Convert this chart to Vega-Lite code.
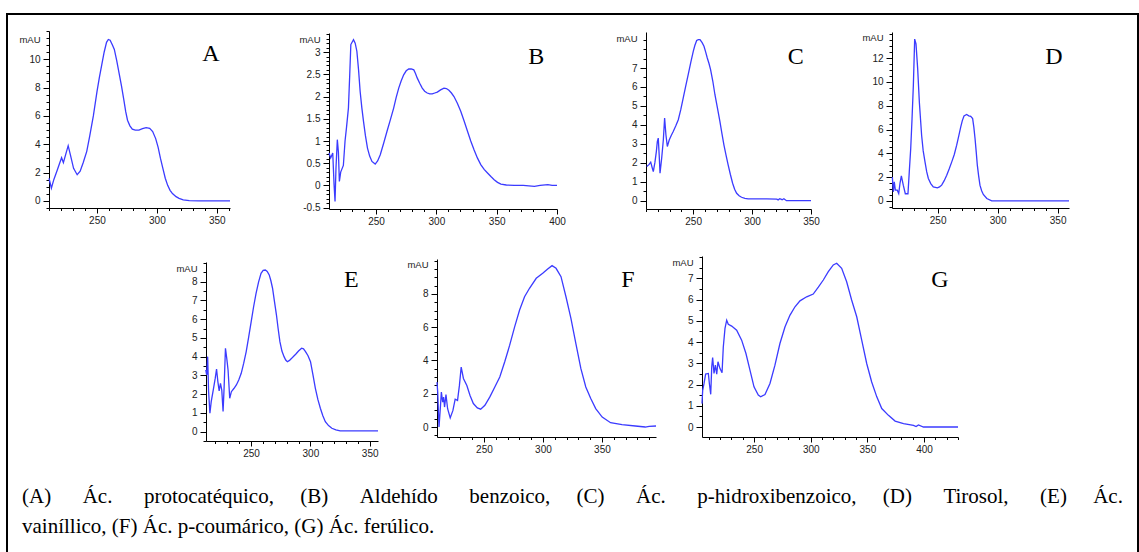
{
  "$schema": "https://vega.github.io/schema/vega-lite/v6.json",
  "width": 1131,
  "height": 540,
  "autosize": {"type": "none"},
  "padding": {"left": 7, "top": 14, "right": 1, "bottom": 0},
  "background": "white",
  "title": {
    "text": ["(A)\u00a0\u00a0\u00a0\u00a0\u00a0\u00a0Ác.\u00a0\u00a0\u00a0\u00a0\u00a0\u00a0protocatéquico,\u00a0\u00a0\u00a0\u00a0\u00a0(B)\u00a0\u00a0\u00a0\u00a0\u00a0\u00a0Aldehído\u00a0\u00a0\u00a0\u00a0\u00a0\u00a0benzoico,\u00a0\u00a0\u00a0\u00a0\u00a0(C)\u00a0\u00a0\u00a0\u00a0\u00a0\u00a0Ác.\u00a0\u00a0\u00a0\u00a0\u00a0\u00a0p-hidroxibenzoico,\u00a0\u00a0\u00a0\u00a0\u00a0(D)\u00a0\u00a0\u00a0\u00a0\u00a0\u00a0Tirosol,\u00a0\u00a0\u00a0\u00a0\u00a0\u00a0(E)\u00a0\u00a0\u00a0\u00a0\u00a0Ác.", "vainíllico, (F) Ác. p-coumárico, (G) Ác. ferúlico."],
    "orient": "bottom", "anchor": "start", "frame": "group", "offset": -68, "dx": 15,
    "font": "Liberation Serif", "fontSize": 21, "fontWeight": "normal", "color": "black", "lineHeight": 30
  },
  "datasets": {
    "A": [{"w":210,"v":1.6},{"w":212,"v":0.9},{"w":214,"v":1.5},{"w":217,"v":2.2},{"w":219,"v":2.7},{"w":220.5,"v":3.05},{"w":222,"v":2.7},{"w":224,"v":3.3},{"w":226,"v":3.9},{"w":228,"v":3.2},{"w":230.5,"v":2.3},{"w":233.5,"v":1.85},{"w":236,"v":2.1},{"w":238.5,"v":2.7},{"w":241.5,"v":3.5},{"w":244,"v":4.6},{"w":247,"v":6.0},{"w":250,"v":7.7},{"w":252,"v":8.7},{"w":254,"v":9.6},{"w":256,"v":10.5},{"w":258,"v":11.2},{"w":259.5,"v":11.4},{"w":261,"v":11.35},{"w":263,"v":11.0},{"w":264.5,"v":10.7},{"w":266.5,"v":9.9},{"w":268.5,"v":9.0},{"w":270.5,"v":8.1},{"w":272.5,"v":7.1},{"w":274,"v":6.3},{"w":275.5,"v":5.7},{"w":277.5,"v":5.3},{"w":279.5,"v":5.07},{"w":282,"v":5.0},{"w":285,"v":5.0},{"w":288,"v":5.1},{"w":291,"v":5.17},{"w":294,"v":5.12},{"w":296.5,"v":4.9},{"w":299,"v":4.4},{"w":301,"v":3.8},{"w":303,"v":3.0},{"w":305,"v":2.3},{"w":307,"v":1.6},{"w":309,"v":1.1},{"w":311,"v":0.75},{"w":313,"v":0.52},{"w":316,"v":0.3},{"w":318.5,"v":0.18},{"w":322,"v":0.08},{"w":327,"v":0.02},{"w":335,"v":0},{"w":361,"v":0}],
    "B": [{"w":211,"v":0.73},{"w":212.4,"v":0.62},{"w":214.1,"v":0.73},{"w":215.2,"v":0.02},{"w":216,"v":-0.36},{"w":216.8,"v":0.4},{"w":217.9,"v":1.03},{"w":218.8,"v":0.75},{"w":219.6,"v":0.09},{"w":220.7,"v":0.3},{"w":222.9,"v":0.45},{"w":224.3,"v":1.0},{"w":225.5,"v":1.3},{"w":227.1,"v":1.74},{"w":228.2,"v":2.5},{"w":229.1,"v":3.17},{"w":231.3,"v":3.28},{"w":232.7,"v":3.2},{"w":234.1,"v":3.02},{"w":235.5,"v":2.6},{"w":236.8,"v":2.12},{"w":238.2,"v":1.75},{"w":239.6,"v":1.44},{"w":241.2,"v":1.12},{"w":242.9,"v":0.84},{"w":244.7,"v":0.66},{"w":246.6,"v":0.54},{"w":249.3,"v":0.48},{"w":251.3,"v":0.55},{"w":253.5,"v":0.69},{"w":256.3,"v":0.95},{"w":259.1,"v":1.22},{"w":261.9,"v":1.48},{"w":264.6,"v":1.74},{"w":266.7,"v":1.98},{"w":268.8,"v":2.19},{"w":270.8,"v":2.35},{"w":272.9,"v":2.49},{"w":275,"v":2.58},{"w":277.1,"v":2.62},{"w":279.2,"v":2.62},{"w":281.3,"v":2.6},{"w":282.7,"v":2.52},{"w":284.1,"v":2.42},{"w":286.2,"v":2.3},{"w":288.3,"v":2.19},{"w":290.3,"v":2.12},{"w":292.4,"v":2.08},{"w":294.5,"v":2.06},{"w":296.6,"v":2.06},{"w":298.7,"v":2.08},{"w":300.8,"v":2.1},{"w":303.5,"v":2.15},{"w":306.3,"v":2.19},{"w":308.3,"v":2.18},{"w":310.4,"v":2.14},{"w":312.5,"v":2.08},{"w":314.6,"v":2.0},{"w":317.4,"v":1.85},{"w":320.2,"v":1.67},{"w":323,"v":1.45},{"w":325.8,"v":1.22},{"w":328.5,"v":1.0},{"w":331.3,"v":0.8},{"w":334,"v":0.62},{"w":336.8,"v":0.47},{"w":339.6,"v":0.36},{"w":342.4,"v":0.28},{"w":345.2,"v":0.2},{"w":347.9,"v":0.13},{"w":350.7,"v":0.07},{"w":353.5,"v":0.03},{"w":358,"v":0.01},{"w":364.6,"v":0.0},{"w":372,"v":0.0},{"w":381.3,"v":-0.02},{"w":386,"v":0.0},{"w":392.4,"v":0.02},{"w":396,"v":0.0},{"w":400,"v":0.0}],
    "C": [{"w":210.6,"v":1.8},{"w":212.5,"v":1.9},{"w":214,"v":2.03},{"w":215.2,"v":1.75},{"w":216.2,"v":1.53},{"w":217.6,"v":2.03},{"w":218.8,"v":2.6},{"w":219.6,"v":3.12},{"w":220.4,"v":3.3},{"w":221.2,"v":2.4},{"w":221.9,"v":1.45},{"w":223.3,"v":2.24},{"w":224.7,"v":3.2},{"w":225.8,"v":4.36},{"w":226.9,"v":3.48},{"w":228.1,"v":2.86},{"w":229.7,"v":3.2},{"w":231.5,"v":3.45},{"w":233.1,"v":3.65},{"w":235.3,"v":3.95},{"w":237.4,"v":4.27},{"w":239.5,"v":4.8},{"w":241.6,"v":5.42},{"w":243.7,"v":6.05},{"w":245.8,"v":6.65},{"w":248,"v":7.3},{"w":250.1,"v":7.88},{"w":251.5,"v":8.2},{"w":253,"v":8.45},{"w":254.4,"v":8.5},{"w":255.8,"v":8.5},{"w":257.5,"v":8.35},{"w":259.2,"v":8.15},{"w":260.6,"v":7.85},{"w":262,"v":7.53},{"w":263.4,"v":7.25},{"w":264.8,"v":6.92},{"w":266.7,"v":6.3},{"w":268.5,"v":5.59},{"w":270.6,"v":4.9},{"w":272.7,"v":4.18},{"w":274.4,"v":3.55},{"w":276.1,"v":2.95},{"w":277.9,"v":2.4},{"w":279.7,"v":1.89},{"w":281.6,"v":1.38},{"w":283.5,"v":0.92},{"w":285.2,"v":0.6},{"w":286.9,"v":0.39},{"w":289,"v":0.26},{"w":291.1,"v":0.18},{"w":293.9,"v":0.12},{"w":296.7,"v":0.09},{"w":312.3,"v":0.09},{"w":321,"v":0.08},{"w":322.1,"v":0.04},{"w":323.5,"v":0.1},{"w":325.5,"v":0.05},{"w":327,"v":0.1},{"w":329.2,"v":0.0},{"w":350,"v":0.0}],
    "D": [{"w":212.3,"v":2.0},{"w":213.1,"v":0.76},{"w":213.9,"v":1.6},{"w":214.8,"v":0.9},{"w":216.4,"v":0.9},{"w":217.6,"v":0.62},{"w":218.7,"v":1.5},{"w":219.8,"v":2.1},{"w":221.4,"v":1.32},{"w":223.1,"v":0.6},{"w":225.3,"v":0.6},{"w":226.4,"v":2.44},{"w":227.6,"v":4.4},{"w":228.7,"v":6.9},{"w":229.8,"v":9.72},{"w":230.9,"v":13.6},{"w":232,"v":13.2},{"w":233.4,"v":11.1},{"w":234.8,"v":8.3},{"w":236.7,"v":5.5},{"w":238,"v":4.2},{"w":239.5,"v":3.28},{"w":240.9,"v":2.45},{"w":242.3,"v":1.88},{"w":244.3,"v":1.45},{"w":246.4,"v":1.18},{"w":249.8,"v":1.09},{"w":251.6,"v":1.18},{"w":253.4,"v":1.32},{"w":255.5,"v":1.7},{"w":257.6,"v":2.16},{"w":259.7,"v":2.7},{"w":261.8,"v":3.28},{"w":263.9,"v":3.9},{"w":265.9,"v":4.68},{"w":267.6,"v":5.45},{"w":269.3,"v":6.22},{"w":270.6,"v":6.75},{"w":272,"v":7.14},{"w":274.2,"v":7.26},{"w":276,"v":7.15},{"w":277.6,"v":7.1},{"w":279.2,"v":6.92},{"w":280.2,"v":6.2},{"w":281.2,"v":5.24},{"w":282.2,"v":4.1},{"w":283.1,"v":3.0},{"w":284.2,"v":2.1},{"w":285.3,"v":1.32},{"w":286.7,"v":0.85},{"w":288.1,"v":0.54},{"w":291,"v":0.2},{"w":295.1,"v":0.0},{"w":359.5,"v":0.0}],
    "E": [{"w":211.8,"v":3.29},{"w":212.6,"v":3.02},{"w":213.4,"v":4.0},{"w":214.2,"v":2.13},{"w":215.3,"v":0.98},{"w":216.4,"v":1.6},{"w":218.1,"v":2.22},{"w":219.8,"v":2.85},{"w":220.9,"v":3.34},{"w":222,"v":2.67},{"w":223.1,"v":2.17},{"w":224.2,"v":2.58},{"w":225.3,"v":2.22},{"w":226.4,"v":1.07},{"w":227.3,"v":2.4},{"w":228.4,"v":4.45},{"w":229.5,"v":3.91},{"w":230.6,"v":3.29},{"w":232,"v":1.78},{"w":233.4,"v":2.13},{"w":235.5,"v":2.3},{"w":237.6,"v":2.49},{"w":239.6,"v":2.75},{"w":241.7,"v":3.11},{"w":243.8,"v":3.65},{"w":245.9,"v":4.27},{"w":248,"v":5.05},{"w":250.1,"v":5.87},{"w":252.1,"v":6.65},{"w":254.2,"v":7.38},{"w":256.3,"v":7.98},{"w":258.4,"v":8.45},{"w":260.2,"v":8.6},{"w":262,"v":8.62},{"w":263.6,"v":8.55},{"w":265.3,"v":8.36},{"w":266.7,"v":8.05},{"w":268.1,"v":7.65},{"w":269.7,"v":6.95},{"w":271.4,"v":6.22},{"w":272.8,"v":5.5},{"w":274.3,"v":4.8},{"w":276,"v":4.3},{"w":277.8,"v":4.0},{"w":279.2,"v":3.82},{"w":280.6,"v":3.73},{"w":282.4,"v":3.8},{"w":284.2,"v":3.91},{"w":285.9,"v":4.02},{"w":287.6,"v":4.13},{"w":290,"v":4.3},{"w":292.6,"v":4.45},{"w":294.2,"v":4.42},{"w":295.9,"v":4.27},{"w":298,"v":4.05},{"w":300.1,"v":3.73},{"w":302.1,"v":3.05},{"w":304.2,"v":2.31},{"w":306.3,"v":1.72},{"w":308.4,"v":1.25},{"w":310.5,"v":0.85},{"w":312.6,"v":0.53},{"w":315.3,"v":0.32},{"w":318.1,"v":0.18},{"w":321.5,"v":0.09},{"w":325.1,"v":0.04},{"w":357,"v":0.04}],
    "F": [{"w":210.2,"v":2.7},{"w":210.8,"v":2.1},{"w":211.9,"v":0.0},{"w":212.8,"v":0.9},{"w":213.9,"v":2.1},{"w":215,"v":1.5},{"w":215.8,"v":1.8},{"w":216.6,"v":1.2},{"w":217.8,"v":1.95},{"w":219.2,"v":1.1},{"w":221.4,"v":0.55},{"w":223.7,"v":1.0},{"w":225.6,"v":1.67},{"w":227.6,"v":1.6},{"w":229.2,"v":2.5},{"w":230.7,"v":3.6},{"w":232.6,"v":2.92},{"w":235.5,"v":2.5},{"w":238.2,"v":1.9},{"w":241,"v":1.41},{"w":244.4,"v":1.15},{"w":247.2,"v":1.07},{"w":250.8,"v":1.31},{"w":255,"v":1.81},{"w":259.2,"v":2.41},{"w":263.4,"v":3.01},{"w":267.6,"v":3.92},{"w":271.8,"v":4.92},{"w":276,"v":6.02},{"w":280.2,"v":7.03},{"w":284.4,"v":7.83},{"w":288.6,"v":8.34},{"w":294.3,"v":8.94},{"w":299.8,"v":9.24},{"w":304,"v":9.5},{"w":307.7,"v":9.7},{"w":311.1,"v":9.54},{"w":315.3,"v":9.04},{"w":319.5,"v":7.83},{"w":323.7,"v":6.53},{"w":327.9,"v":5.02},{"w":332.1,"v":3.52},{"w":336.3,"v":2.41},{"w":340.5,"v":1.71},{"w":344.7,"v":1.11},{"w":350.2,"v":0.6},{"w":357.3,"v":0.26},{"w":367,"v":0.14},{"w":378.3,"v":0.06},{"w":386.7,"v":0.0},{"w":390,"v":0.04},{"w":395.8,"v":0.06}],
    "G": [{"w":204,"v":1.1},{"w":204.6,"v":1.73},{"w":205.8,"v":2.05},{"w":207.2,"v":2.49},{"w":209.6,"v":2.52},{"w":210.5,"v":2.05},{"w":211.7,"v":1.54},{"w":212.6,"v":2.83},{"w":213.4,"v":3.27},{"w":214.6,"v":2.52},{"w":215.8,"v":2.91},{"w":217,"v":2.49},{"w":218.1,"v":3.07},{"w":219.9,"v":2.75},{"w":221.7,"v":2.55},{"w":222.8,"v":3.77},{"w":224.3,"v":4.64},{"w":225.8,"v":5.03},{"w":227.2,"v":4.84},{"w":230.2,"v":4.75},{"w":234.6,"v":4.56},{"w":239,"v":4.09},{"w":242.8,"v":3.46},{"w":246.4,"v":2.67},{"w":249.9,"v":1.89},{"w":253.7,"v":1.5},{"w":255.8,"v":1.42},{"w":259.6,"v":1.53},{"w":264,"v":2.05},{"w":268.4,"v":2.91},{"w":272.8,"v":3.93},{"w":277.3,"v":4.72},{"w":281.7,"v":5.27},{"w":286.1,"v":5.66},{"w":290.5,"v":5.94},{"w":296.4,"v":6.13},{"w":302.2,"v":6.26},{"w":306.7,"v":6.58},{"w":311.1,"v":6.92},{"w":315.5,"v":7.31},{"w":319.9,"v":7.63},{"w":322.9,"v":7.71},{"w":327.3,"v":7.47},{"w":331.7,"v":6.84},{"w":336.1,"v":5.98},{"w":340.6,"v":5.19},{"w":345,"v":4.09},{"w":349.4,"v":2.99},{"w":353.8,"v":2.12},{"w":358.3,"v":1.42},{"w":362.7,"v":0.87},{"w":368.6,"v":0.55},{"w":374.5,"v":0.28},{"w":381.9,"v":0.16},{"w":390.7,"v":0.08},{"w":393,"v":0.02},{"w":395.1,"v":0.1},{"w":399.5,"v":0.0},{"w":430,"v":0.0}]
  },
  "layer": [
    {"layer": [
      {"data": {"name": "A"}, "mark": {"type": "line", "color": "#3b3bff", "strokeWidth": 1.3},
       "encoding": {
        "x": {"field": "w", "type": "quantitative", "scale": {"domain": [210, 361], "range": [42, 223], "nice": false, "zero": false},
          "axis": {"orient": "bottom", "offset": -346, "title": null, "tickCount": 500, "labelOverlap": false, "labelFlush": false, "values": [210,220,230,240,250,260,270,280,290,300,310,320,330,340,350,360], "labelExpr": "datum.value % 50 === 0 ? '' + datum.value : ''", "tickSize": {"condition": {"test": "datum.value % 50 === 0", "value": 5}, "value": 2.5}}},
        "y": {"field": "v", "type": "quantitative", "scale": {"domain": [-0.5, 12], "range": [194, 17], "nice": false, "zero": false},
          "axis": {"orient": "left", "offset": -42, "title": "mAU", "titleX": -9, "titleY": 25.5, "tickCount": 500, "labelOverlap": false, "labelFlush": false, "values": [-0.5,0,0.5,1,1.5,2,2.5,3,3.5,4,4.5,5,5.5,6,6.5,7,7.5,8,8.5,9,9.5,10,10.5,11,11.5,12], "labelExpr": "datum.value % 2 === 0 && datum.value <= 10 ? '' + datum.value : ''", "tickSize": {"condition": {"test": "datum.value % 2 === 0 && datum.value <= 10", "value": 6}, "value": 3}}}
       }},
      {"data": {"values": [{"t": "A"}]}, "mark": {"type": "text", "font": "Liberation Serif", "fontSize": 24, "align": "center", "baseline": "middle", "color": "black"},
       "encoding": {"x": {"datum": 345, "type": "quantitative"}, "y": {"datum": 10.4, "type": "quantitative"}, "text": {"field": "t"}}}
    ]},
    {"layer": [
      {"data": {"name": "B"}, "mark": {"type": "line", "color": "#3b3bff", "strokeWidth": 1.3},
       "encoding": {
        "x": {"field": "w", "type": "quantitative", "scale": {"domain": [211, 400], "range": [322, 550], "nice": false, "zero": false},
          "axis": {"orient": "bottom", "offset": -345, "title": null, "tickCount": 500, "labelOverlap": false, "labelFlush": false, "values": [220,230,240,250,260,270,280,290,300,310,320,330,340,350,360,370,380,390,400], "labelExpr": "datum.value % 50 === 0 ? '' + datum.value : ''", "tickSize": {"condition": {"test": "datum.value % 50 === 0", "value": 5}, "value": 2.5}}},
        "y": {"field": "v", "type": "quantitative", "scale": {"domain": [-0.53, 3.43], "range": [195, 19], "nice": false, "zero": false},
          "axis": {"orient": "left", "offset": -322, "title": "mAU", "titleX": -9, "titleY": 25, "tickCount": 500, "labelOverlap": false, "labelFlush": false, "values": [-0.5,-0.4,-0.3,-0.2,-0.1,0,0.1,0.2,0.3,0.4,0.5,0.6,0.7,0.8,0.9,1,1.1,1.2,1.3,1.4,1.5,1.6,1.7,1.8,1.9,2,2.1,2.2,2.3,2.4,2.5,2.6,2.7,2.8,2.9,3,3.1,3.2,3.3,3.4], "labelExpr": "abs(datum.value * 2 - round(datum.value * 2)) < 0.001 && datum.value <= 3 ? '' + datum.value : ''", "tickSize": {"condition": {"test": "abs(datum.value * 2 - round(datum.value * 2)) < 0.001 && datum.value <= 3", "value": 6}, "value": 3}}}
       }},
      {"data": {"values": [{"t": "B"}]}, "mark": {"type": "text", "font": "Liberation Serif", "fontSize": 24, "align": "center", "baseline": "middle", "color": "black"},
       "encoding": {"x": {"datum": 382.7, "type": "quantitative"}, "y": {"datum": 2.9, "type": "quantitative"}, "text": {"field": "t"}}}
    ]},
    {"layer": [
      {"data": {"name": "C"}, "mark": {"type": "line", "color": "#3b3bff", "strokeWidth": 1.3},
       "encoding": {
        "x": {"field": "w", "type": "quantitative", "scale": {"domain": [210, 350], "range": [639, 804], "nice": false, "zero": false},
          "axis": {"orient": "bottom", "offset": -345, "title": null, "tickCount": 500, "labelOverlap": false, "labelFlush": false, "values": [210,220,230,240,250,260,270,280,290,300,310,320,330,340,350], "labelExpr": "datum.value % 50 === 0 ? '' + datum.value : ''", "tickSize": {"condition": {"test": "datum.value % 50 === 0", "value": 5}, "value": 2.5}}},
        "y": {"field": "v", "type": "quantitative", "scale": {"domain": [-0.44, 8.9], "range": [195, 18], "nice": false, "zero": false},
          "axis": {"orient": "left", "offset": -639, "title": "mAU", "titleX": -9, "titleY": 24.3, "tickCount": 500, "labelOverlap": false, "labelFlush": false, "values": [0,0.5,1,1.5,2,2.5,3,3.5,4,4.5,5,5.5,6,6.5,7,7.5,8,8.5], "labelExpr": "datum.value % 1 === 0 && datum.value <= 7 ? '' + datum.value : ''", "tickSize": {"condition": {"test": "datum.value % 1 === 0 && datum.value <= 7", "value": 6}, "value": 3}}}
       }},
      {"data": {"values": [{"t": "C"}]}, "mark": {"type": "text", "font": "Liberation Serif", "fontSize": 24, "align": "center", "baseline": "middle", "color": "black"},
       "encoding": {"x": {"datum": 337, "type": "quantitative"}, "y": {"datum": 7.6, "type": "quantitative"}, "text": {"field": "t"}}}
    ]},
    {"layer": [
      {"data": {"name": "D"}, "mark": {"type": "line", "color": "#3b3bff", "strokeWidth": 1.3},
       "encoding": {
        "x": {"field": "w", "type": "quantitative", "scale": {"domain": [212, 359.5], "range": [885, 1062], "nice": false, "zero": false},
          "axis": {"orient": "bottom", "offset": -346, "title": null, "tickCount": 500, "labelOverlap": false, "labelFlush": false, "values": [220,230,240,250,260,270,280,290,300,310,320,330,340,350], "labelExpr": "datum.value % 50 === 0 ? '' + datum.value : ''", "tickSize": {"condition": {"test": "datum.value % 50 === 0", "value": 5}, "value": 2.5}}},
        "y": {"field": "v", "type": "quantitative", "scale": {"domain": [-0.6, 14.2], "range": [194, 18], "nice": false, "zero": false},
          "axis": {"orient": "left", "offset": -885, "title": "mAU", "titleX": -9, "titleY": 23.7, "tickCount": 500, "labelOverlap": false, "labelFlush": false, "values": [-0.5,0,0.5,1,1.5,2,2.5,3,3.5,4,4.5,5,5.5,6,6.5,7,7.5,8,8.5,9,9.5,10,10.5,11,11.5,12,12.5,13,13.5,14], "labelExpr": "datum.value % 2 === 0 && datum.value <= 12 ? '' + datum.value : ''", "tickSize": {"condition": {"test": "datum.value % 2 === 0 && datum.value <= 12", "value": 6}, "value": 3}}}
       }},
      {"data": {"values": [{"t": "D"}]}, "mark": {"type": "text", "font": "Liberation Serif", "fontSize": 24, "align": "center", "baseline": "middle", "color": "black"},
       "encoding": {"x": {"datum": 347, "type": "quantitative"}, "y": {"datum": 12.1, "type": "quantitative"}, "text": {"field": "t"}}}
    ]},
    {"layer": [
      {"data": {"name": "E"}, "mark": {"type": "line", "color": "#3b3bff", "strokeWidth": 1.3},
       "encoding": {
        "x": {"field": "w", "type": "quantitative", "scale": {"domain": [212, 357], "range": [199, 371], "nice": false, "zero": false},
          "axis": {"orient": "bottom", "offset": -113, "title": null, "tickCount": 500, "labelOverlap": false, "labelFlush": false, "values": [220,230,240,250,260,270,280,290,300,310,320,330,340,350], "labelExpr": "datum.value % 50 === 0 ? '' + datum.value : ''", "tickSize": {"condition": {"test": "datum.value % 50 === 0", "value": 5}, "value": 2.5}}},
        "y": {"field": "v", "type": "quantitative", "scale": {"domain": [-0.5, 9.05], "range": [427, 248], "nice": false, "zero": false},
          "axis": {"orient": "left", "offset": -199, "title": "mAU", "titleX": -9, "titleY": 254, "tickCount": 500, "labelOverlap": false, "labelFlush": false, "values": [-0.5,0,0.5,1,1.5,2,2.5,3,3.5,4,4.5,5,5.5,6,6.5,7,7.5,8,8.5,9], "labelExpr": "datum.value % 1 === 0 && datum.value <= 8 ? '' + datum.value : ''", "tickSize": {"condition": {"test": "datum.value % 1 === 0 && datum.value <= 8", "value": 6}, "value": 3}}}
       }},
      {"data": {"values": [{"t": "E"}]}, "mark": {"type": "text", "font": "Liberation Serif", "fontSize": 24, "align": "center", "baseline": "middle", "color": "black"},
       "encoding": {"x": {"datum": 334.5, "type": "quantitative"}, "y": {"datum": 8.1, "type": "quantitative"}, "text": {"field": "t"}}}
    ]},
    {"layer": [
      {"data": {"name": "F"}, "mark": {"type": "line", "color": "#3b3bff", "strokeWidth": 1.3},
       "encoding": {
        "x": {"field": "w", "type": "quantitative", "scale": {"domain": [210.2, 395.8], "range": [430, 649], "nice": false, "zero": false},
          "axis": {"orient": "bottom", "offset": -117, "title": null, "tickCount": 500, "labelOverlap": false, "labelFlush": false, "values": [220,230,240,250,260,270,280,290,300,310,320,330,340,350,360,370,380,390], "labelExpr": "datum.value % 50 === 0 ? '' + datum.value : ''", "tickSize": {"condition": {"test": "datum.value % 50 === 0", "value": 5}, "value": 2.5}}},
        "y": {"field": "v", "type": "quantitative", "scale": {"domain": [-0.6, 10.1], "range": [423, 245], "nice": false, "zero": false},
          "axis": {"orient": "left", "offset": -430, "title": "mAU", "titleX": -9, "titleY": 250.3, "tickCount": 500, "labelOverlap": false, "labelFlush": false, "values": [-0.5,0,0.5,1,1.5,2,2.5,3,3.5,4,4.5,5,5.5,6,6.5,7,7.5,8,8.5,9,9.5,10], "labelExpr": "datum.value % 2 === 0 && datum.value <= 8 ? '' + datum.value : ''", "tickSize": {"condition": {"test": "datum.value % 2 === 0 && datum.value <= 8", "value": 6}, "value": 3}}}
       }},
      {"data": {"values": [{"t": "F"}]}, "mark": {"type": "text", "font": "Liberation Serif", "fontSize": 24, "align": "center", "baseline": "middle", "color": "black"},
       "encoding": {"x": {"datum": 372, "type": "quantitative"}, "y": {"datum": 8.84, "type": "quantitative"}, "text": {"field": "t"}}}
    ]},
    {"layer": [
      {"data": {"name": "G"}, "mark": {"type": "line", "color": "#3b3bff", "strokeWidth": 1.3},
       "encoding": {
        "x": {"field": "w", "type": "quantitative", "scale": {"domain": [204, 430], "range": [695, 951], "nice": false, "zero": false},
          "axis": {"orient": "bottom", "offset": -117, "title": null, "tickCount": 500, "labelOverlap": false, "labelFlush": false, "values": [210,220,230,240,250,260,270,280,290,300,310,320,330,340,350,360,370,380,390,400,410,420,430], "labelExpr": "datum.value % 50 === 0 ? '' + datum.value : ''", "tickSize": {"condition": {"test": "datum.value % 50 === 0", "value": 5}, "value": 2.5}}},
        "y": {"field": "v", "type": "quantitative", "scale": {"domain": [-0.47, 8.05], "range": [423, 242], "nice": false, "zero": false},
          "axis": {"orient": "left", "offset": -695, "title": "mAU", "titleX": -9, "titleY": 248.7, "tickCount": 500, "labelOverlap": false, "labelFlush": false, "values": [0,0.5,1,1.5,2,2.5,3,3.5,4,4.5,5,5.5,6,6.5,7,7.5,8], "labelExpr": "datum.value % 1 === 0 && datum.value <= 7 ? '' + datum.value : ''", "tickSize": {"condition": {"test": "datum.value % 1 === 0 && datum.value <= 7", "value": 6}, "value": 3}}}
       }},
      {"data": {"values": [{"t": "G"}]}, "mark": {"type": "text", "font": "Liberation Serif", "fontSize": 24, "align": "center", "baseline": "middle", "color": "black"},
       "encoding": {"x": {"datum": 414, "type": "quantitative"}, "y": {"datum": 6.92, "type": "quantitative"}, "text": {"field": "t"}}}
    ]}
  ],
  "resolve": {"scale": {"x": "independent", "y": "independent"}, "axis": {"x": "independent", "y": "independent"}},
  "config": {
    "view": {"stroke": "black", "strokeWidth": 2},
    "axis": {"grid": false, "domainColor": "black", "domainWidth": 1, "tickColor": "black", "tickWidth": 1, "labelFont": "Liberation Sans", "labelFontSize": 10, "labelColor": "#222", "labelOverlap": false, "labelFlush": false, "labelBound": false, "titleFont": "Liberation Sans", "titleFontSize": 9.5, "titleFontWeight": "normal", "titleColor": "#222", "titleAngle": 0, "titleAlign": "right", "titleBaseline": "middle"},
    "axisX": {"labelPadding": 2},
    "axisY": {"labelPadding": 3}
  }
}
